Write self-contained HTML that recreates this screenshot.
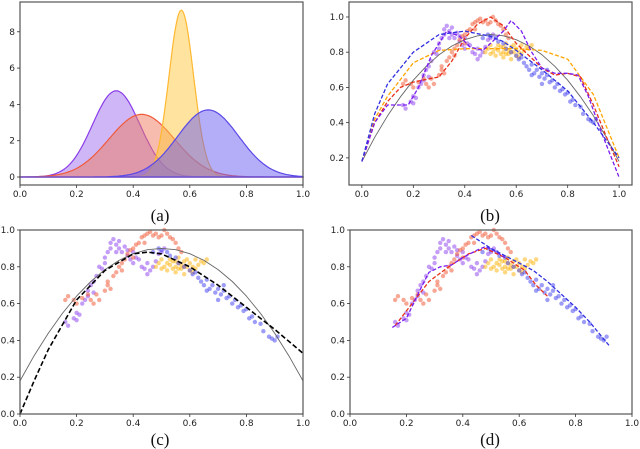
<!DOCTYPE html>
<html><head><meta charset="utf-8"><style>
html,body{margin:0;padding:0;background:#fff}
svg{display:block}
text{font-family:"DejaVu Sans","Liberation Sans",sans-serif;font-size:9px;fill:#222}
.cap{font-family:"Liberation Serif",serif;font-size:17px;fill:#111}
</style></head><body>
<svg id="fig" width="640" height="449" viewBox="0 0 640 449" xmlns="http://www.w3.org/2000/svg"></svg>
<script>
// ---- data ----
const densityNames=['purple','red','yellow','blue'];
const densityMeans=[0.34,0.43,0.57,0.665];
const densitySds=[0.084,0.1156,0.0434,0.108];
const purpleX=[0.16,0.17,0.19,0.2,0.2,0.21,0.22,0.23,0.24,0.25,0.26,0.26,0.27,0.28,0.29,0.3,0.31,0.32,0.32,0.33,0.34,0.35,0.35,0.36,0.37,0.38,0.38,0.39,0.4,0.41,0.42,0.43,0.44,0.45,0.46,0.47,0.48,0.49,0.5,0.51,0.3,0.24,0.34,0.4,0.45];
const purpleY=[0.5,0.48,0.52,0.51,0.55,0.54,0.6,0.62,0.67,0.7,0.72,0.66,0.75,0.8,0.79,0.85,0.88,0.9,0.93,0.95,0.92,0.9,0.94,0.88,0.91,0.86,0.89,0.84,0.82,0.85,0.84,0.8,0.79,0.82,0.78,0.8,0.83,0.87,0.88,0.9,0.82,0.64,0.88,0.88,0.76];
const redX=[0.16,0.17,0.19,0.2,0.22,0.24,0.25,0.26,0.27,0.28,0.3,0.31,0.31,0.32,0.33,0.34,0.35,0.36,0.37,0.38,0.39,0.4,0.41,0.42,0.43,0.44,0.45,0.46,0.47,0.48,0.49,0.5,0.51,0.52,0.53,0.54,0.55,0.56,0.57,0.36,0.4,0.44];
const redY=[0.62,0.64,0.62,0.6,0.63,0.65,0.62,0.6,0.65,0.62,0.67,0.7,0.72,0.68,0.75,0.77,0.8,0.82,0.84,0.87,0.89,0.9,0.92,0.93,0.96,0.97,0.98,0.99,0.97,0.98,0.96,0.97,1.0,0.98,0.96,0.95,0.93,0.9,0.88,0.78,0.85,0.93];
const orangeX=[0.48,0.49,0.5,0.5,0.51,0.52,0.52,0.53,0.54,0.54,0.55,0.55,0.56,0.56,0.57,0.57,0.58,0.58,0.59,0.59,0.6,0.6,0.61,0.62,0.62,0.63,0.64,0.65,0.66,0.53,0.56,0.58,0.55,0.61];
const orangeY=[0.8,0.82,0.79,0.84,0.8,0.82,0.78,0.81,0.83,0.79,0.8,0.77,0.82,0.85,0.79,0.81,0.83,0.76,0.8,0.84,0.78,0.82,0.8,0.84,0.79,0.81,0.83,0.82,0.84,0.84,0.79,0.8,0.83,0.77];
const blueX=[0.47,0.49,0.5,0.52,0.53,0.55,0.56,0.58,0.6,0.61,0.62,0.63,0.64,0.65,0.66,0.67,0.68,0.69,0.7,0.71,0.72,0.73,0.74,0.75,0.76,0.77,0.78,0.79,0.8,0.81,0.82,0.83,0.85,0.86,0.88,0.89,0.9,0.91,0.66,0.7,0.72];
const blueY=[0.88,0.9,0.89,0.88,0.86,0.85,0.82,0.8,0.78,0.76,0.77,0.74,0.72,0.7,0.73,0.68,0.7,0.66,0.68,0.65,0.67,0.63,0.64,0.6,0.62,0.58,0.59,0.56,0.57,0.52,0.53,0.5,0.49,0.45,0.42,0.41,0.4,0.42,0.67,0.62,0.7];
// fitted curves (b)
const bOrangeX=[0,0.05,0.1,0.2,0.3,0.4,0.5,0.6,0.7,0.8,0.9,0.95,1.0];
const bOrangeY=[0.18,0.42,0.55,0.74,0.81,0.82,0.82,0.82,0.81,0.76,0.56,0.38,0.2];
const bRedX=[0,0.05,0.1,0.15,0.2,0.3,0.35,0.4,0.45,0.5,0.55,0.6,0.65,0.7,0.75,0.8,0.85,0.9,0.95,1.0];
const bRedY=[0.18,0.4,0.52,0.6,0.63,0.66,0.75,0.88,0.96,1.0,0.95,0.85,0.78,0.71,0.67,0.68,0.66,0.5,0.32,0.15];
const bPurpleX=[0,0.05,0.1,0.15,0.18,0.22,0.27,0.33,0.38,0.42,0.47,0.5,0.55,0.58,0.62,0.66,0.7,0.75,0.8,0.84,0.88,0.93,1.0];
const bPurpleY=[0.18,0.4,0.5,0.5,0.5,0.6,0.78,0.92,0.89,0.83,0.81,0.85,0.92,0.98,0.92,0.8,0.71,0.68,0.68,0.67,0.55,0.35,0.09];
const bBlueX=[0,0.05,0.1,0.2,0.3,0.4,0.5,0.55,0.6,0.7,0.8,0.9,1.0];
const bBlueY=[0.18,0.45,0.62,0.8,0.9,0.92,0.89,0.86,0.81,0.7,0.58,0.4,0.2];
const gtX=[0,0.05,0.1,0.15,0.2,0.25,0.3,0.35,0.4,0.45,0.5,0.55,0.6,0.65,0.7,0.75,0.8,0.85,0.9,0.95,1.0];
const gtY=[0.18,0.317,0.439,0.547,0.641,0.72,0.785,0.835,0.871,0.893,0.9,0.893,0.871,0.835,0.785,0.72,0.641,0.547,0.439,0.317,0.18];
// (c)
const cFitX=[0,0.05,0.1,0.2,0.3,0.4,0.45,0.5,0.6,0.7,0.8,0.9,1.0];
const cFitY=[0,0.18,0.35,0.62,0.78,0.87,0.88,0.87,0.8,0.7,0.58,0.46,0.33];
// (d)
const dPurpleX=[0.15,0.2,0.25,0.28,0.32,0.36,0.4,0.45,0.48,0.52,0.55];
const dPurpleY=[0.47,0.52,0.68,0.77,0.8,0.81,0.85,0.89,0.91,0.88,0.85];
const dRedX=[0.16,0.22,0.28,0.35,0.42,0.48,0.55,0.62,0.66,0.7];
const dRedY=[0.48,0.6,0.72,0.8,0.87,0.9,0.85,0.78,0.7,0.64];
const dBlueX=[0.43,0.5,0.55,0.6,0.65,0.7,0.75,0.8,0.85,0.92];
const dBlueY=[0.97,0.9,0.86,0.82,0.78,0.72,0.65,0.58,0.5,0.37];
const xTicks=[0,0.2,0.4,0.6,0.8,1.0];
const xTickLabels=['0.0','0.2','0.4','0.6','0.8','1.0'];

const NS='http://www.w3.org/2000/svg';
const fig=document.getElementById('fig');
function mk(tag,attrs,parent){const e=document.createElementNS(NS,tag);for(const k in attrs)e.setAttribute(k,attrs[k]);(parent||fig).appendChild(e);return e;}
function panel(name,box,xd,yd){
  const g=mk('g',{});
  
  
  const sx=v=>box.x0+(v-xd[0])/(xd[1]-xd[0])*(box.x1-box.x0);
  const sy=v=>box.y1-(v-yd[0])/(yd[1]-yd[0])*(box.y1-box.y0);
  return {g,sx,sy};
}
function frame(p,box,name){
  const r=mk('rect',{x:box.x0,y:box.y0,width:box.x1-box.x0,height:box.y1-box.y0,fill:'none',stroke:'#555','stroke-width':1.2},p.g);
  
  
}
function xaxis(p,box,name){
  const ax=mk('g',{},p.g);
  
  
  xTicks.forEach((t,i)=>{const x=p.sx(t);
    mk('line',{x1:x,x2:x,y1:box.y1,y2:box.y1+3,stroke:'#333','stroke-width':0.8},ax);
    const tx=mk('text',{x:x,y:box.y1+12,'text-anchor':'middle'},ax);tx.textContent=xTickLabels[i];});
}
function yaxis(p,box,ticks,labels,name){
  const ax=mk('g',{},p.g);
  
  
  ticks.forEach((t,i)=>{const y=p.sy(t);
    mk('line',{x1:box.x0-3,x2:box.x0,y1:y,y2:y,stroke:'#333','stroke-width':0.8},ax);
    const tx=mk('text',{x:box.x0-5,y:y+3,'text-anchor':'end'},ax);tx.textContent=labels[i];});
}
function cap(x,y,s,name){const t=mk('text',{x:x,y:y,'text-anchor':'middle',class:'cap'});t.textContent=s;
  }
function line(p,xs,ys,color,dash,w,name){
  const d=xs.map((x,i)=>(i?'L':'M')+p.sx(x).toFixed(1)+','+p.sy(ys[i]).toFixed(1)).join('');
  const e=mk('path',{d:d,fill:'none',stroke:color,'stroke-width':w,'stroke-dasharray':dash||'none','stroke-linejoin':'round'},p.g);
  
  
}
function scatter(p,xs,ys,color,name){
  const g=mk('g',{},p.g);
  
  
  xs.forEach((x,i)=>mk('circle',{cx:p.sx(x),cy:p.sy(ys[i]),r:2.2,fill:color,'fill-opacity':0.5},g));
}
function allScatter(p,tag){
  scatter(p,purpleX,purpleY,'#8a3cf0',tag+'-purple-points');
  scatter(p,redX,redY,'#f0502a',tag+'-red-points');
  scatter(p,orangeX,orangeY,'#ffb000',tag+'-orange-points');
  scatter(p,blueX,blueY,'#3c3cf0',tag+'-blue-points');
}

// ---- panel a ----
{const box={x0:20,x1:303,y0:2,y1:185};
 const p=panel('panel-a',box,[0,1],[-0.44,9.64]);
 const fills=['#a070f0','#f07a5c','#ffc840','#6a5cf0'];
 const strokes=['#8a3ce8','#f05a3c','#ffb830','#5a48e8'];
 densityMeans.forEach((m,k)=>{
   const s=densitySds[k];const xs=[],ys=[];
   for(let i=0;i<=200;i++){const x=i/200;xs.push(x);ys.push(Math.exp(-0.5*((x-m)/s)**2)/(s*Math.sqrt(2*Math.PI)));}
   let d='M'+p.sx(0)+','+p.sy(0)+xs.map((x,i)=>'L'+p.sx(x).toFixed(1)+','+p.sy(ys[i]).toFixed(1)).join('')+'L'+p.sx(1)+','+p.sy(0)+'Z';
   const f=mk('path',{d:d,fill:fills[k],'fill-opacity':0.5,stroke:strokes[k],'stroke-width':1.2},p.g);
   
   
 });
 frame(p,box,'panel-a');xaxis(p,box,'panel-a');yaxis(p,box,[0,2,4,6,8],['0','2','4','6','8'],'panel-a');
 cap(160,221,'(a)','caption-a');}

// ---- panel b ----
{const box={x0:349,x1:632,y0:2,y1:185};
 const p=panel('panel-b',box,[-0.05,1.05],[0.046,1.085]);
 allScatter(p,'panel-b');
 line(p,gtX,gtY,'#666',null,0.9,'panel-b-true-curve');
 line(p,bOrangeX,bOrangeY,'#ffa500','4,2',1.3,'panel-b-orange-fit');
 line(p,bRedX,bRedY,'#e8301a','4,2',1.3,'panel-b-red-fit');
 line(p,bPurpleX,bPurpleY,'#7a1cf0','4,2',1.3,'panel-b-purple-fit');
 line(p,bBlueX,bBlueY,'#3030e0','4,2',1.3,'panel-b-blue-fit');
 frame(p,box,'panel-b');xaxis(p,box,'panel-b');
 yaxis(p,box,[0.2,0.4,0.6,0.8,1.0],['0.2','0.4','0.6','0.8','1.0'],'panel-b');
 cap(490,221,'(b)','caption-b');}

// ---- panel c ----
{const box={x0:20,x1:303,y0:230,y1:414};
 const p=panel('panel-c',box,[0,1],[0,1]);
 allScatter(p,'panel-c');
 line(p,gtX,gtY,'#666',null,0.9,'panel-c-true-curve');
 line(p,cFitX,cFitY,'#000','5,2.5',1.6,'panel-c-global-fit');
 frame(p,box,'panel-c');xaxis(p,box,'panel-c');
 yaxis(p,box,[0,0.2,0.4,0.6,0.8,1.0],['0.0','0.2','0.4','0.6','0.8','1.0'],'panel-c');
 cap(160,445,'(c)','caption-c');}

// ---- panel d ----
{const box={x0:350,x1:632,y0:230,y1:414};
 const p=panel('panel-d',box,[0,1],[0,1]);
 allScatter(p,'panel-d');
 line(p,dRedX,dRedY,'#e8301a','4,2',1.3,'panel-d-red-fit');
 line(p,dPurpleX,dPurpleY,'#7a1cf0','4,2',1.3,'panel-d-purple-fit');
 line(p,dBlueX,dBlueY,'#3030e0','4,2',1.3,'panel-d-blue-fit');
 frame(p,box,'panel-d');xaxis(p,box,'panel-d');
 yaxis(p,box,[0,0.2,0.4,0.6,0.8,1.0],['0.0','0.2','0.4','0.6','0.8','1.0'],'panel-d');
 cap(490,445,'(d)','caption-d');}
</script>
</body></html>
